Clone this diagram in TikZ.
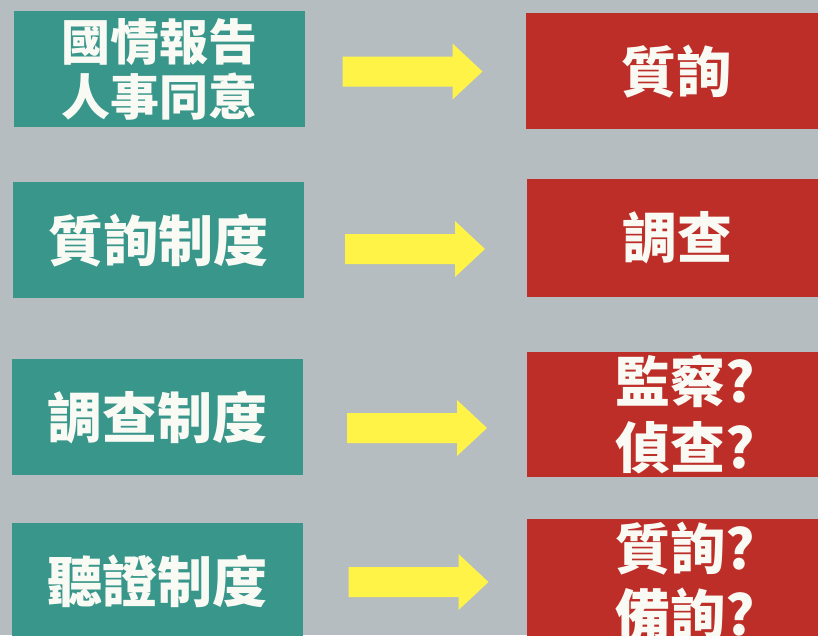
\documentclass[tikz,border=0pt]{standalone}
\usepackage{fontspec}
\newfontfamily\cjk{Noto Sans CJK TC}
\usetikzlibrary{calc}
\definecolor{bggray}{RGB}{181,189,193}
\definecolor{tealbox}{RGB}{56,150,138}
\definecolor{redbox}{RGB}{190,46,40}
\definecolor{arrowyellow}{RGB}{255,243,72}
\definecolor{textwhite}{RGB}{250,250,245}
\begin{document}
\begin{tikzpicture}[x=1pt,y=-1pt,
  box/.style={anchor=north west, inner sep=0pt, text=textwhite,
    font=\cjk\bfseries\fontsize{55}{66}\selectfont, align=center},
  leftbox/.style={box, fill=tealbox, minimum width=291pt, minimum height=116pt},
  rightbox/.style={box, fill=redbox, minimum width=300pt},
  bigarrow/.pic={\fill[arrowyellow] (-70,-15) -- (40,-15) -- (40,-28) -- (70,0)
      -- (40,28) -- (40,15) -- (-70,15) -- cycle;}
]
\useasboundingbox (0,0) rectangle (818,635);
\clip (0,0) rectangle (818,635);
\fill[bggray] (0,0) rectangle (818,635);

% left boxes
\node[leftbox, font=\cjk\bfseries\fontsize{49}{55}\selectfont] (t1) at (14,11) {國情報告\\人事同意};
\node[leftbox] (t2) at (13,182) {質詢制度};
\node[leftbox] (t3) at (12,359) {調查制度};
\node[leftbox] (t4) at (12,523) {聽證制度};

% right boxes
\node[rightbox, minimum height=116pt] (r1) at (526,13) {質詢};
\node[rightbox, minimum height=118pt] (r2) at (527,179) {調查};
\node[rightbox, minimum height=125pt] (r3) at (527,352) {\hspace*{16pt}監察?\\\hspace*{16pt}偵查?};
\node[rightbox, minimum height=125pt] (r4) at (527,519) {\hspace*{16pt}質詢?\\\hspace*{16pt}備詢?};

% arrows
\pic (a1) at (412.5,71.5) {bigarrow};
\pic (a2) at (415,249) {bigarrow};
\pic (a3) at (417,428) {bigarrow};
\pic (a4) at (418.5,582) {bigarrow};
\end{tikzpicture}
\end{document}
